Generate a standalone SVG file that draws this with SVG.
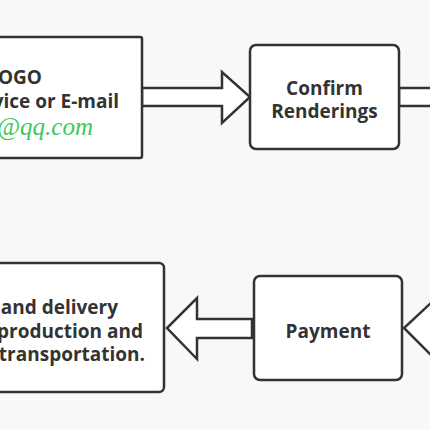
<svg xmlns="http://www.w3.org/2000/svg" width="430" height="430" viewBox="0 0 430 430">
<style>
.box{fill:#fff;stroke:#333;stroke-width:2.5}
.arr{fill:#fff;stroke:#333;stroke-width:2.5;stroke-linejoin:miter}
.t{font-family:"Open Sans","DejaVu Sans",sans-serif;font-weight:bold;font-size:19px;fill:#333}
.g{font-family:"Liberation Serif",serif;font-style:italic;font-size:25px;fill:#3cc85a}
</style>
<rect width="430" height="430" fill="#f8f8f8"/>
<g id="connectors">
<polygon class="arr" points="142,88 222,88 222,72 250,97 222,123 222,106 142,106"/>
<polygon class="arr" points="399,88 432,88 432,106 399,106"/>
<polygon class="arr" points="252,319 197,319 197,298 167,328 197,359 197,338 252,338"/>
<polygon class="arr" points="432,302 404,328 432,356"/>
</g>
<g id="node-logo">
<rect class="box" x="-10" y="37" width="152" height="121" rx="2"/>
<text class="t" x="42" y="84" text-anchor="end">OGO</text>
<text class="t" x="119" y="108" text-anchor="end">vice or E-mail</text>
<text class="g" x="93" y="135" text-anchor="end">@qq.com</text>
</g>
<g id="node-confirm">
<rect class="box" x="250" y="45" width="149" height="104" rx="6"/>
<text class="t" x="324.5" y="95" text-anchor="middle">Confirm</text>
<text class="t" x="324.5" y="118" text-anchor="middle">Renderings</text>
</g>
<g id="node-delivery">
<rect class="box" x="-10" y="263" width="174" height="129" rx="5"/>
<text class="t" x="118" y="314" text-anchor="end">and delivery</text>
<text class="t" x="143" y="338" text-anchor="end">production and</text>
<text class="t" x="145" y="361" text-anchor="end">transportation.</text>
</g>
<g id="node-payment">
<rect class="box" x="254" y="276" width="148" height="104" rx="6"/>
<text class="t" x="328" y="338" text-anchor="middle">Payment</text>
</g>
</svg>
